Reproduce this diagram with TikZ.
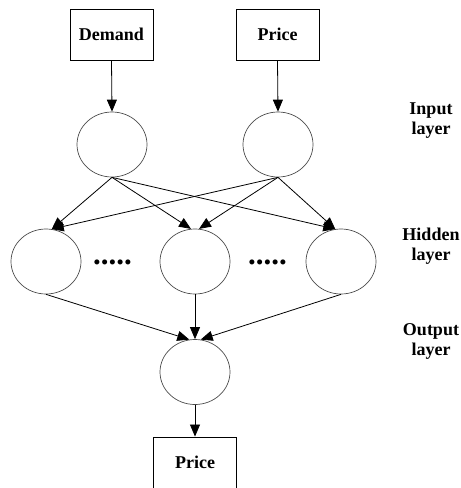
\documentclass[tikz,border=0pt]{standalone}
\usepackage{fontspec}
\setmainfont{Liberation Serif}
\usetikzlibrary{shapes.geometric,arrows.meta}
\begin{document}
\begin{tikzpicture}[x=1pt,y=-1pt,
  box/.style={draw,line width=0.9pt,minimum width=83pt,minimum height=51pt,inner sep=0pt,font=\fontsize{18}{20}\selectfont\bfseries},
  neuron/.style={draw=black!70,line width=0.7pt,ellipse,minimum width=70pt,minimum height=65pt,inner sep=0pt},
  lbl/.style={align=center,anchor=base,inner sep=0pt,font=\fontsize{18}{20}\selectfont\bfseries},
  dots/.style={anchor=base,inner sep=0pt,font=\fontsize{31}{31}\selectfont\bfseries},
  conn/.style={line width=0.8pt,-{Triangle[length=12pt,width=10pt]}}]
\useasboundingbox (0,0) rectangle (461,488);
\node[box] (d) at (111.5,34.5) {Demand};
\node[box] (p) at (277.5,34.5) {Price};
\node[neuron] (i1) at (112,144.5) {};
\node[neuron] (i2) at (278,144.5) {};
\node[neuron] (h1) at (46,261.5) {};
\node[neuron] (h2) at (195,261.5) {};
\node[neuron] (h3) at (341,261.5) {};
\node[neuron] (o) at (195,372) {};
\node[box] (r) at (195,462.5) {Price};
\node[dots] (dt1) at (112.5,264.5) {.....};
\node[dots] (dt2) at (267.5,264.5) {.....};
\node[lbl] (li) at (431,134) {Input\\layer};
\node[lbl] (lh) at (431,260) {Hidden\\layer};
\node[lbl] (lo) at (431,355) {Output\\layer};
\draw[conn] (d.south) -- (i1.north);
\draw[conn] (p.south) -- (i2.north);
\draw[conn] (i1.south) -- (h1.80);
\draw[conn] (i1.south) -- (h2.97);
\draw[conn] (i1.south) -- (h3.100);
\draw[conn] (i2.south) -- (h1.80);
\draw[conn] (i2.south) -- (h2.83);
\draw[conn] (i2.south) -- (h3.100);
\draw[conn] (h1.south) -- (o.100);
\draw[conn] (h2.south) -- (o.north);
\draw[conn] (h3.south) -- (o.80);
\draw[conn] (o.south) -- (r.north);
\end{tikzpicture}
\end{document}
